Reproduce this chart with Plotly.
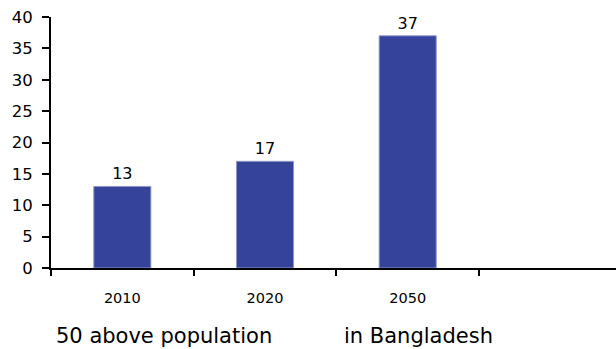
import plotly.graph_objects as go

years = ["2010", "2020", "2050"]
values = [13, 17, 37]
title_left = "50 above population"
title_right = "in Bangladesh"

fig = go.Figure()
fig.add_trace(go.Bar(
    x=years, y=values, width=0.4,
    marker=dict(color="#35439a", line=dict(color="#8e98cc", width=1)),
    text=[str(v) for v in values], textposition="outside",
    textfont=dict(family="DejaVu Sans", size=16, color="black"),
    cliponaxis=False,
))
fig.update_layout(
    width=616, height=349,
    margin=dict(l=51, r=0, t=17, b=81),
    plot_bgcolor="white", paper_bgcolor="white",
    showlegend=False,
    font=dict(family="DejaVu Sans", size=14, color="black"),
    xaxis=dict(type="category", range=[-0.5, 3.46], showgrid=False,
               showline=True, linecolor="black", linewidth=2,
               ticks="outside", tickson="boundaries", ticklen=6, tickwidth=2,
               tickcolor="black", ticklabelstandoff=16,
               tickfont=dict(size=14.5)),
    yaxis=dict(range=[0, 40], dtick=5, showgrid=False, zeroline=False,
               showline=True, linecolor="black", linewidth=2,
               ticks="outside", ticklen=7, tickwidth=2, tickcolor="black",
               ticklabelstandoff=6, tickfont=dict(size=16.5)),
)
fig.add_annotation(text=title_left, xref="paper", yref="paper", x=0.0, y=-0.27,
                   xanchor="left", yanchor="middle", showarrow=False,
                   font=dict(size=21), xshift=3)
fig.add_annotation(text=title_right, xref="paper", yref="paper", x=0.515, y=-0.27,
                   xanchor="left", yanchor="middle", showarrow=False,
                   font=dict(size=21))
fig.write_html("out.html")
